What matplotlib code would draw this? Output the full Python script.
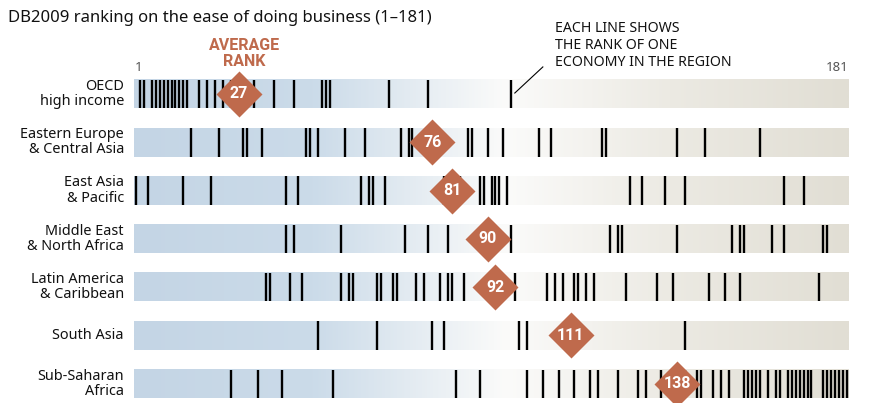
import numpy as np
import matplotlib
matplotlib.use('Agg')
import matplotlib.pyplot as plt
from matplotlib.colors import LinearSegmentedColormap

# ---------------- data ----------------
regions = ["OECD\nhigh income", "Eastern Europe\n& Central Asia", "East Asia\n& Pacific",
           "Middle East\n& North Africa", "Latin America\n& Caribbean", "South Asia",
           "Sub-Saharan\nAfrica"]
averages = [27, 76, 81, 90, 92, 111, 138]

oecd = [2, 3, 5, 6, 7, 8, 9, 10, 11, 12, 13, 14, 17, 19, 21, 23, 25, 26, 27, 31, 36, 41,
        48, 49, 50, 65, 75, 96]
eeca = [15, 22, 28, 29, 33, 44, 45, 47, 54, 59, 68, 70, 71, 76, 85, 86, 90, 94, 103, 106,
        119, 120, 138, 145, 159]
eap = [1, 4, 13, 20, 39, 42, 58, 60, 61, 64, 79, 83, 88, 89, 91, 92, 93, 95, 126, 129,
       135, 140, 165, 170]
mena = [39, 41, 53, 69, 75, 80, 96, 121, 123, 124, 138, 152, 154, 155, 162, 165, 175, 176]
lac = [34, 35, 40, 43, 53, 55, 56, 62, 63, 66, 67, 72, 74, 78, 80, 81, 84, 97, 105, 107,
       109, 112, 113, 115, 117, 125, 133, 137, 146, 150, 154, 174]
sasia = [47, 62, 76, 79, 98, 100, 112, 140]
ssa = [25, 32, 38, 51, 82, 88, 100, 104, 108, 112, 116, 118, 123, 128, 130, 134, 137, 140,
       143, 144, 147, 149, 151, 155, 156, 157, 158, 159, 161, 163, 164, 166, 167, 168, 169,
       170, 171, 172, 175, 176, 177, 178, 179, 180, 181]
series = [oecd, eeca, eap, mena, lac, sasia, ssa]

rank_min, rank_max = 1, 181
title = "DB2009 ranking on the ease of doing business (1\u2013181)"
note_lines = ["EACH LINE SHOWS", "THE RANK OF ONE", "ECONOMY IN THE REGION"]
avg_lines = ["AVERAGE", "RANK"]

# ---------------- style ----------------
plt.rcParams['font.family'] = ['Noto Sans', 'DejaVu Sans']
boldfam = ['Roboto', 'DejaVu Sans']
diam_col = '#BF6A4C'

fig = plt.figure(figsize=(8.7, 4.03), dpi=100)
ax = fig.add_axes([134 / 870, 0, 715 / 870, 1])

cmap = LinearSegmentedColormap.from_list(
    'band', [(0.0, '#C4D5E5'), (0.25, '#CBDBE9'), (0.52, '#FBFBFA'),
             (0.75, '#ECEAE3'), (1.0, '#E1DED4')])
grad = np.linspace(0, 1, 512).reshape(1, -1)
h = 0.295

for i, (label, vals, avg) in enumerate(zip(regions, series, averages)):
    ax.imshow(grad, cmap=cmap, extent=(rank_min - 0.5, rank_max + 0.5, i + h, i - h),
              aspect='auto', interpolation='bilinear', zorder=1)
    ax.vlines(vals, i - h, i + h, color='black', lw=1.7, zorder=2)
    ax.plot([avg], [i], marker='D', ms=23, color=diam_col, mec='none', ls='none', zorder=3)
    ax.text(avg, i, str(avg), color='white', weight='bold', ha='center', va='center',
            fontsize=11.5, family=boldfam, zorder=4)
    ax.text(-0.014, i, label, transform=ax.get_yaxis_transform(), ha='right', va='center',
            fontsize=10.4, linespacing=1.02, color='#111111')

# end labels
ax.text(rank_min - 0.3, -0.54, str(rank_min), ha='left', va='center', fontsize=9.5,
        color='#555555')
ax.text(rank_max + 0.3, -0.54, str(rank_max), ha='right', va='center', fontsize=9.5,
        color='#555555')

# average rank heading
for k, s in enumerate(avg_lines):
    ax.text(averages[0] + 1.5, -1.0 + 0.33 * k, s, ha='center', va='center',
            fontsize=11.5, weight='bold', color=diam_col, family=boldfam)

# annotation
for k, s in enumerate(note_lines):
    ax.text(107.1, -1.366 + 0.352 * k, s, ha='left', va='center', fontsize=10.2,
            color='#111111')
ax.plot([104.0, 96.9], [-0.56, -0.02], color='black', lw=0.8, zorder=5)

ax.set_xlim(rank_min - 0.5, rank_max + 0.5)
ax.set_ylim(6.398, -1.946)
ax.axis('off')

fig.text(8 / 870, 1 - 18 / 403, title, ha='left', va='center', fontsize=12, color='#111111')

fig.savefig('out.png', dpi=100)
